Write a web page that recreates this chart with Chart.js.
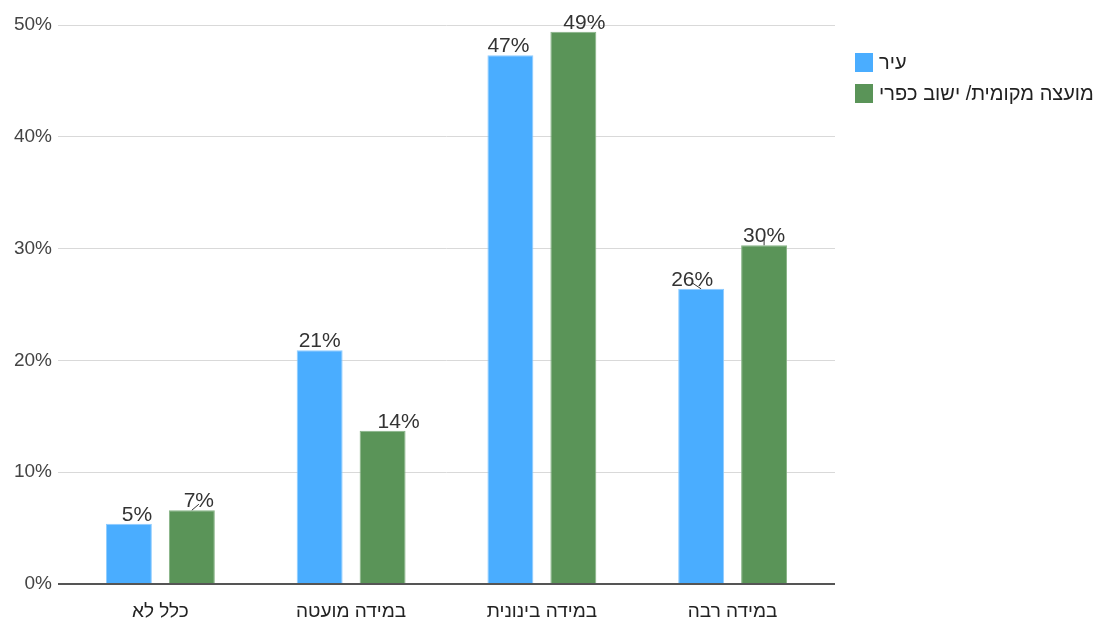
<!DOCTYPE html>
<html>
<head>
<meta charset="utf-8">
<script src="https://cdn.jsdelivr.net/npm/chart.js@4/dist/chart.umd.min.js"></script>
<style>
  html, body { margin: 0; padding: 0; background: #ffffff; }
  #wrap { width: 1101px; height: 619px; position: relative; }
</style>
</head>
<body>
<div id="wrap"><canvas id="chart"></canvas></div>
<script>
// Survey answers by type of locality (percent of respondents)
const categories = ['כלל לא', 'במידה מועטה', 'במידה בינונית', 'במידה רבה'];
const seriesNames = ['עיר', 'מועצה מקומית/ ישוב כפרי'];
const cityValues = [5.4, 20.9, 47.3, 26.4];
const villageValues = [6.6, 13.7, 49.4, 30.3];
const yTickValues = [0, 10, 20, 30, 40, 50];

// Label placement: sideways shift (px) of each value label, and which ones get a leader line
const labelShift = [[8, 0, -2, -9], [7, 16, 11, 0]];
const labelLeader = [[false, false, false, true], [true, false, false, true]];

const FONT = '"Liberation Sans", Arial, sans-serif';
const COLORS = {
  city: '#4aadff', cityEdge: '#8fccff',
  village: '#5a9458', villageEdge: '#86b385',
  grid: '#d9d9d9', baseline: '#555555',
  tick: '#444444', category: '#222222', value: '#333333', legend: '#222222'
};

// Draws the percentage above every bar
const valueLabels = {
  id: 'valueLabels',
  afterDatasetsDraw(chart) {
    const ctx = chart.ctx;
    ctx.save();
    ctx.font = '21px ' + FONT;
    ctx.fillStyle = COLORS.value;
    ctx.strokeStyle = COLORS.value;
    ctx.lineWidth = 1;
    ctx.textAlign = 'center';
    ctx.textBaseline = 'alphabetic';
    chart.data.datasets.forEach((ds, di) => {
      const meta = chart.getDatasetMeta(di);
      meta.data.forEach((bar, i) => {
        const lx = bar.x + labelShift[di][i];
        ctx.fillText(Math.round(ds.data[i]) + '%', lx, bar.y - 3);
        if (labelLeader[di][i]) {
          ctx.beginPath();
          ctx.moveTo(bar.x, bar.y);
          ctx.lineTo(lx, bar.y - 6);
          ctx.stroke();
        }
      });
    });
    ctx.restore();
  }
};

// Grid lines run a few pixels past the plot on the right; legend beside the plot
const frame = {
  id: 'frame',
  beforeDatasetsDraw(chart) {
    const ctx = chart.ctx;
    const y = chart.scales.y;
    const right = chart.chartArea.right;
    ctx.save();
    y.ticks.forEach(t => {
      const p = y.getPixelForValue(t.value);
      const w = t.value === 0 ? 2 : 1;
      const py = Math.round(p - w / 2) + w / 2;
      ctx.strokeStyle = t.value === 0 ? COLORS.baseline : COLORS.grid;
      ctx.lineWidth = w;
      ctx.beginPath(); ctx.moveTo(right, py); ctx.lineTo(right + 7, py); ctx.stroke();
    });
    ctx.restore();
  },
  afterDraw(chart) {
    const ctx = chart.ctx;
    ctx.save();
    ctx.textBaseline = 'middle';
    ctx.textAlign = 'left';
    ctx.font = '20px ' + FONT;
    chart.data.datasets.forEach((ds, i) => {
      const top = 53 + i * 31;
      ctx.fillStyle = ds.backgroundColor;
      ctx.fillRect(855, top, 18, 19);
      ctx.fillStyle = COLORS.legend;
      ctx.fillText(ds.label, 879, top + 10);
    });
    ctx.restore();
  }
};

new Chart(document.getElementById('chart'), {
  type: 'bar',
  data: {
    labels: categories,
    datasets: [
      { label: seriesNames[0], data: cityValues,
        backgroundColor: COLORS.city, borderColor: COLORS.cityEdge, borderWidth: 1 },
      { label: seriesNames[1], data: villageValues,
        backgroundColor: COLORS.village, borderColor: COLORS.villageEdge, borderWidth: 1 }
    ]
  },
  options: {
    responsive: true,
    maintainAspectRatio: false,
    animation: false,
    layout: { padding: { top: 25, right: 273, bottom: 0, left: 0 } },
    datasets: { bar: { categoryPercentage: 0.66, barPercentage: 0.73 } },
    plugins: { legend: { display: false }, tooltip: { enabled: false } },
    scales: {
      x: {
        grid: { display: false },
        border: { display: false },
        afterFit: s => { s.height = 35; },
        ticks: { padding: 8, color: COLORS.category, font: { family: FONT, size: 19 } }
      },
      y: {
        min: 0, max: 50,
        afterBuildTicks: s => { s.ticks = yTickValues.map(v => ({ value: v })); },
        afterFit: s => { s.width = 65; },
        border: { display: false },
        grid: {
          color: c => (c.tick && c.tick.value === 0) ? COLORS.baseline : COLORS.grid,
          lineWidth: c => (c.tick && c.tick.value === 0) ? 2 : 1,
          tickLength: 7
        },
        ticks: {
          padding: 6, color: COLORS.tick, font: { family: FONT, size: 19 },
          callback: v => v + '%'
        }
      }
    }
  },
  plugins: [valueLabels, frame]
});
</script>
</body>
</html>
